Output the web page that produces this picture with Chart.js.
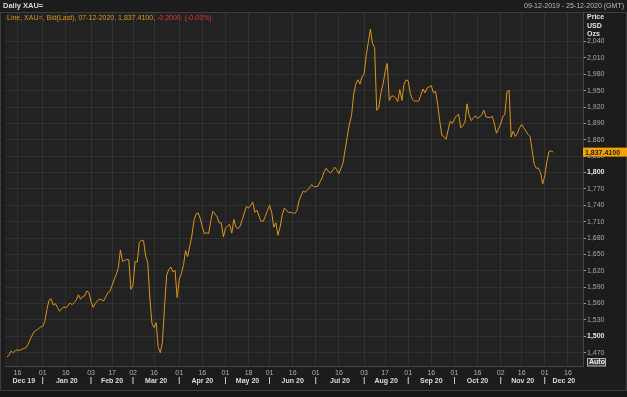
<!DOCTYPE html>
<html>
<head>
<meta charset="utf-8">
<script src="https://cdn.jsdelivr.net/npm/chart.js@4"></script>
<style>
  html, body { margin: 0; padding: 0; background: #1c1c1c; }
  #wrap { width: 627px; height: 397px; position: relative; }
</style>
</head>
<body>
<div id="wrap"><canvas id="goldChart" width="627" height="397"></canvas></div>
<script>
// Daily XAU= bid, one value per weekday from 09-12-2019 to 07-12-2020
const startDate = '2019-12-09';
const endDate = '2020-12-25';
const prices = [
  1462,1466,1473,1470,1474,1475,1474,1476,1478,1479,
  1485,1494,1502,1509,1511,1514,1517,1518,1527,1549,
  1566,1569,1557,1560,1553,1546,1550,1554,1552,1556,
  1561,1558,1562,1567,1576,1568,1573,1574,1583,1580,
  1564,1553,1560,1565,1568,1567,1565,1572,1580,1582,
  1593,1604,1613,1626,1658,1637,1639,1641,1640,1586,
  1595,1637,1636,1672,1676,1675,1647,1635,1570,1524,
  1516,1525,1480,1470,1490,1555,1612,1622,1627,1618,
  1621,1571,1605,1615,1630,1657,1646,1665,1684,1712,
  1724,1726,1716,1700,1688,1690,1688,1712,1729,1724,
  1719,1708,1708,1682,1698,1702,1705,1689,1714,1700,
  1697,1702,1714,1726,1738,1735,1740,1746,1727,1731,
  1720,1710,1711,1720,1731,1740,1727,1700,1708,1685,
  1700,1722,1735,1731,1727,1727,1726,1725,1730,1748,
  1758,1766,1764,1768,1772,1778,1774,1774,1775,1783,
  1790,1802,1808,1802,1799,1804,1810,1805,1798,1808,
  1818,1843,1866,1889,1904,1942,1962,1970,1962,1975,
  1981,2015,2038,2063,2036,2029,1914,1919,1946,1962,
  1985,2000,1932,1940,1940,1937,1930,1952,1932,1962,
  1970,1968,1945,1934,1931,1931,1931,1942,1953,1946,
  1955,1957,1959,1946,1949,1925,1895,1868,1866,1861,
  1878,1894,1890,1898,1904,1907,1882,1886,1892,1926,
  1905,1895,1900,1904,1899,1902,1906,1914,1902,1901,
  1901,1903,1890,1872,1880,1889,1902,1907,1948,1951,
  1865,1876,1866,1872,1882,1888,1882,1876,1870,1866,
  1840,1815,1808,1808,1800,1779,1794,1820,1838,1840,
  1837.41
];

const yTicks = [1470,1500,1530,1560,1590,1620,1650,1680,1710,1740,1770,1800,
                1830,1860,1890,1920,1950,1980,2010,2040];
const boldTicks = [1500, 1800];

const tickDates = ['2019-12-16','2020-01-01','2020-01-16','2020-02-03','2020-02-17',
  '2020-03-02','2020-03-16','2020-04-01','2020-04-16','2020-05-01','2020-05-18',
  '2020-06-01','2020-06-16','2020-07-01','2020-07-16','2020-08-03','2020-08-17',
  '2020-09-01','2020-09-16','2020-10-01','2020-10-16','2020-11-02','2020-11-16',
  '2020-12-01','2020-12-16'];
const tickLabels = ['16','01','16','03','17','02','16','01','16','01','18','01','16',
  '01','16','03','17','01','16','01','16','02','16','01','16'];

const monthStarts = ['2019-12-01','2020-01-01','2020-02-01','2020-03-01','2020-04-01',
  '2020-05-01','2020-06-01','2020-07-01','2020-08-01','2020-09-01','2020-10-01',
  '2020-11-01','2020-12-01'];
const monthLabels = ['Dec 19','Jan 20','Feb 20','Mar 20','Apr 20','May 20','Jun 20',
  'Jul 20','Aug 20','Sep 20','Oct 20','Nov 20','Dec 20'];

const legendMain = 'Line, XAU=, Bid(Last), 07-12-2020, 1,837.4100, ';
const legendChange = '-0.2000, (-0.01%)';

// weekday calendar used as the x axis (weekends are skipped like the original)
const days = [];
for (let d = new Date(startDate + 'T00:00:00Z'); d <= new Date(endDate + 'T00:00:00Z'); d.setUTCDate(d.getUTCDate() + 1)) {
  const wd = d.getUTCDay();
  if (wd !== 0 && wd !== 6) days.push(d.toISOString().slice(0, 10));
}
function dayIndex(iso) {
  const k = days.findIndex(s => s >= iso);
  return k < 0 ? days.length - 1 : k;
}

const xMin = -0.95;
const xMax = 274.2;
const font = 'Liberation Sans, Arial, sans-serif';
const points = prices.map((v, i) => ({ x: i, y: v }));
const tickIdx = tickDates.map(dayIndex);
const isBold = c => !!(c.tick && boldTicks.includes(c.tick.value));

const frame = {
  id: 'frame',
  beforeDraw(chart) {
    const { ctx, chartArea: a } = chart;
    ctx.save();
    ctx.fillStyle = '#1c1c1c';
    ctx.fillRect(0, 0, chart.width, chart.height);
    ctx.fillStyle = '#151515';
    ctx.fillRect(0, 391, chart.width, chart.height - 391);
    ctx.strokeStyle = '#3e3e3e';
    ctx.lineWidth = 1;
    ctx.strokeRect(0.5, 12.5, chart.width - 1, 378);
    ctx.fillStyle = '#222222';
    ctx.fillRect(a.left, a.top, a.right - a.left, a.bottom - a.top);
    ctx.restore();
  },
  afterDraw(chart) {
    const { ctx, chartArea: a } = chart;
    const xs = chart.scales.x, ys = chart.scales.y;
    ctx.save();
    ctx.textBaseline = 'middle';

    // header
    ctx.font = 'bold 7.5px ' + font;
    ctx.fillStyle = '#d8d8d8';
    ctx.textAlign = 'left';
    ctx.fillText('Daily XAU=', 3, 6);
    ctx.font = '7px ' + font;
    ctx.fillStyle = '#bdbdbd';
    ctx.textAlign = 'right';
    ctx.fillText('09-12-2019 - 25-12-2020 (GMT)', 624, 6);

    // legend line inside the plot
    ctx.textAlign = 'left';
    ctx.font = '7px ' + font;
    ctx.fillStyle = '#df961c';
    ctx.fillText(legendMain, 7, 18.5);
    const w = ctx.measureText(legendMain).width;
    ctx.fillStyle = '#e03a2a';
    ctx.fillText(legendChange, 7 + w, 18.5);

    // y axis title
    ctx.font = 'bold 7px ' + font;
    ctx.fillStyle = '#e2e2e2';
    ctx.fillText('Price', 587, 17.5);
    ctx.fillText('USD', 587, 26);
    ctx.fillText('Ozs', 587, 34.5);

    // last value tag, centred on the last point
    const last = prices[prices.length - 1];
    const ty = ys.getPixelForValue(last);
    ctx.fillStyle = '#f5a10a';
    ctx.fillRect(a.right, ty - 4.5, 44, 9);
    ctx.fillStyle = '#1a1a1a';
    ctx.font = 'bold 7px ' + font;
    ctx.fillText(last.toLocaleString('en-US', { minimumFractionDigits: 4 }), a.right + 2, ty + 0.5);

    // Auto button
    ctx.fillStyle = '#3a3a3a';
    ctx.fillRect(587.5, 358.5, 18, 7.5);
    ctx.strokeStyle = '#b5b5b5';
    ctx.strokeRect(587.5, 358.5, 18, 7.5);
    ctx.fillStyle = '#eeeeee';
    ctx.fillText('Auto', 589, 362.5);

    // month row with separators
    ctx.font = 'bold 7px ' + font;
    ctx.fillStyle = '#dcdcdc';
    ctx.textAlign = 'center';
    monthStarts.forEach((m, k) => {
      const s = m < startDate ? xMin : dayIndex(m);
      const e = k + 1 < monthStarts.length ? dayIndex(monthStarts[k + 1]) : xMax;
      const cx = (xs.getPixelForValue(s) + xs.getPixelForValue(Math.min(e, xMax))) / 2;
      ctx.fillText(monthLabels[k], cx, 381);
      if (k > 0) ctx.fillText('|', xs.getPixelForValue(s), 380.5);
    });
    ctx.restore();
  }
};

new Chart(document.getElementById('goldChart'), {
  type: 'line',
  data: {
    datasets: [{
      data: points,
      borderColor: '#dd9418',
      borderWidth: 1,
      pointRadius: 0,
      tension: 0
    }]
  },
  options: {
    responsive: false,
    animation: false,
    layout: { padding: { left: 5, top: 13, right: 0, bottom: 0 } },
    plugins: { legend: { display: false }, tooltip: { enabled: false } },
    scales: {
      x: {
        type: 'linear',
        min: xMin,
        max: xMax,
        afterBuildTicks: s => { s.ticks = tickIdx.map(v => ({ value: v })); },
        afterFit: s => { s.height = 30.5; },
        grid: { color: '#313131', drawTicks: false },
        border: { color: '#464646' },
        ticks: {
          autoSkip: false,
          maxRotation: 0,
          padding: 2,
          color: '#b0b0b0',
          font: { family: font, size: 7 },
          callback: (v, i) => tickLabels[i]
        }
      },
      y: {
        position: 'right',
        min: 1444.7,
        max: 2092.3,
        afterBuildTicks: s => { s.ticks = yTicks.map(v => ({ value: v })); },
        afterFit: s => { s.width = 44; },
        grid: { color: '#313131', tickColor: '#9a9a9a', tickLength: 3 },
        border: { color: '#464646' },
        ticks: {
          padding: 1,
          color: c => isBold(c) ? '#e6e6e6' : '#a8a8a8',
          font: c => ({ family: font, size: 7, weight: isBold(c) ? 'bold' : 'normal' }),
          callback: v => v.toLocaleString('en-US')
        }
      }
    }
  },
  plugins: [frame]
});
</script>
</body>
</html>
